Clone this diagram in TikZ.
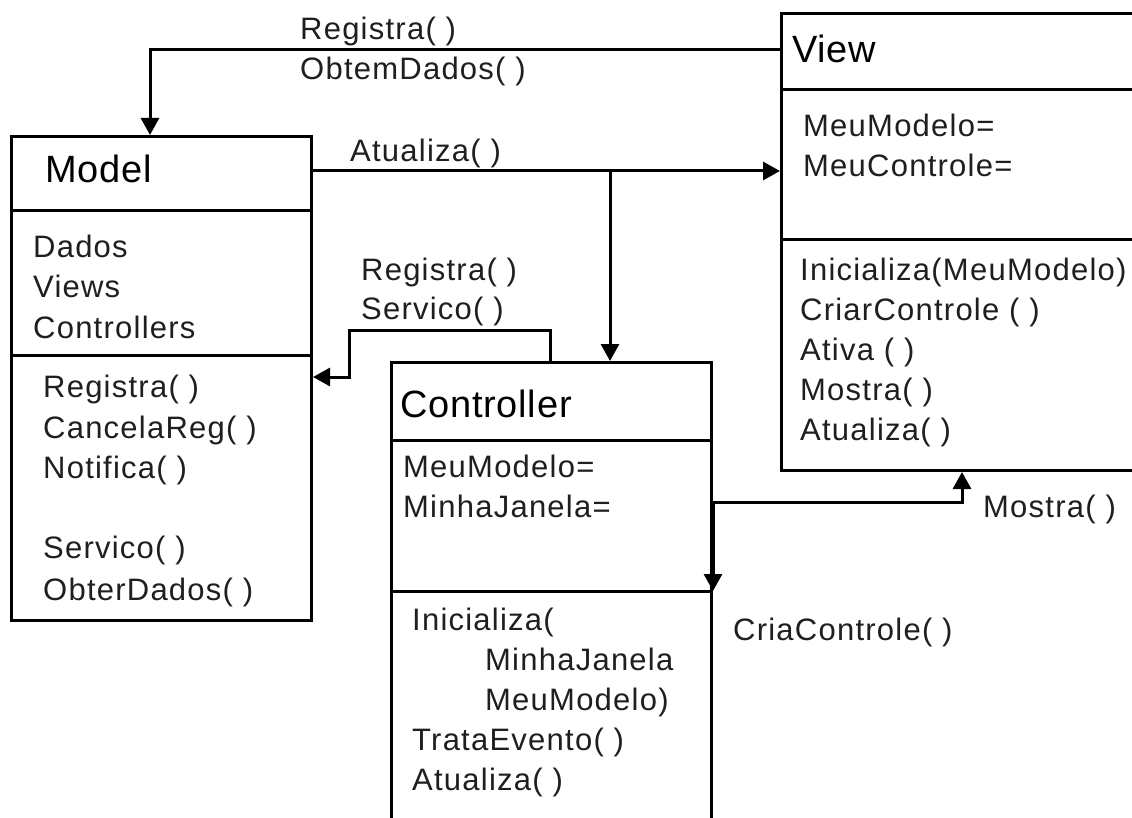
\documentclass[tikz,border=0pt]{standalone}
\usepackage{fontspec}
\setmainfont{Liberation Sans}
\newfontfamily\bodyfont[LetterSpace=4]{Liberation Sans}
\newfontfamily\titlefont[LetterSpace=2]{Liberation Sans}
\usetikzlibrary{arrows.meta}
\tikzset{
  box/.style={draw, line width=3pt, inner sep=0pt, anchor=north west},
  divider/.style={line width=3pt},
  conn/.style={line width=3pt},
  arr/.style={line width=3pt, -{Triangle[length=17pt,width=18pt]}},
  txt/.style={inner sep=0pt, anchor=base west, text=black!88, font=\bodyfont\fontsize{31}{36}\selectfont},
  ttl/.style={inner sep=0pt, anchor=base west, font=\titlefont\fontsize{38}{44}\selectfont},
}
\begin{document}
\begin{tikzpicture}[x=1pt,y=-1pt]
\clip (0,0) rectangle (1132,818);
\fill[white] (0,0) rectangle (1132,818);

% boxes
\node[box, minimum width=300pt, minimum height=484pt] (model) at (10,135) {};
\node[box, minimum width=380pt, minimum height=457pt] (view) at (780,12) {};
\node[box, minimum width=320pt, minimum height=480pt] (ctrl) at (390,361) {};

% dividers
\draw[divider] (model.west |- 0,211) -- (model.east |- 0,211);
\draw[divider] (model.west |- 0,355) -- (model.east |- 0,355);
\draw[divider] (view.west |- 0,90) -- (view.east |- 0,90);
\draw[divider] (view.west |- 0,240) -- (view.east |- 0,240);
\draw[divider] (ctrl.west |- 0,440) -- (ctrl.east |- 0,440);
\draw[divider] (ctrl.west |- 0,591) -- (ctrl.east |- 0,591);

% Model texts
\node[ttl] (tmodel) at (45,183) {Model};
\node[txt] (m1) at (33,258) {Dados};
\node[txt] (m2) at (33,298) {Views};
\node[txt] (m3) at (33,338) {Controllers};
\node[txt] (m4) at (43,397) {Registra( )};
\node[txt] (m5) at (43,438) {CancelaReg( )};
\node[txt] (m6) at (43,478) {Notifica( )};
\node[txt] (m7) at (43,558) {Servico( )};
\node[txt] (m8) at (43,600) {ObterDados( )};

% View texts
\node[ttl] (tview) at (792,63) {View};
\node[txt] (v1) at (803,137) {MeuModelo=};
\node[txt] (v2) at (803,177) {MeuControle=};
\node[txt] (v3) at (800,280) {Inicializa(MeuModelo)};
\node[txt] (v4) at (800,320) {CriarControle ( )};
\node[txt] (v5) at (800,360) {Ativa ( )};
\node[txt] (v6) at (800,400) {Mostra( )};
\node[txt] (v7) at (800,440) {Atualiza( )};

% Controller texts
\node[ttl] (tctrl) at (400,417) {Controller};
\node[txt] (c1) at (403,477) {MeuModelo=};
\node[txt] (c2) at (403,517) {MinhaJanela=};
\node[txt] (c3) at (412,630) {Inicializa(};
\node[txt] (c4) at (485,670) {MinhaJanela};
\node[txt] (c5) at (485,710) {MeuModelo)};
\node[txt] (c6) at (412,750) {TrataEvento( )};
\node[txt] (c7) at (412,790) {Atualiza( )};

% connector labels
\node[txt] (l1) at (300,40) {Registra( )};
\node[txt] (l2) at (300,80) {ObtemDados( )};
\node[txt] (l3) at (350,162) {Atualiza( )};
\node[txt] (l4) at (361,280) {Registra( )};
\node[txt] (l5) at (361,319) {Servico( )};
\node[txt] (l6) at (983,517) {Mostra( )};
\node[txt] (l7) at (733,640) {CriaControle( )};

% connectors
\coordinate (j1) at (610,171);
\coordinate (k1) at (349,330);
\coordinate (k2) at (962,502);

\draw[arr] (view.west |- 0,50) -| (model.north -| 150,0);
\draw[arr] (model.east |- j1) -- (view.west |- j1);
\draw[arr] (j1) -- (ctrl.north -| j1);
\draw[arr] (ctrl.north -| 550,0) |- (k1) |- (model.east |- 0,377);
\draw[arr] (ctrl.east |- k2) -| (view.south -| k2);
\draw[arr] (ctrl.east |- k2) -- (ctrl.east |- 0,591);
\end{tikzpicture}
\end{document}
